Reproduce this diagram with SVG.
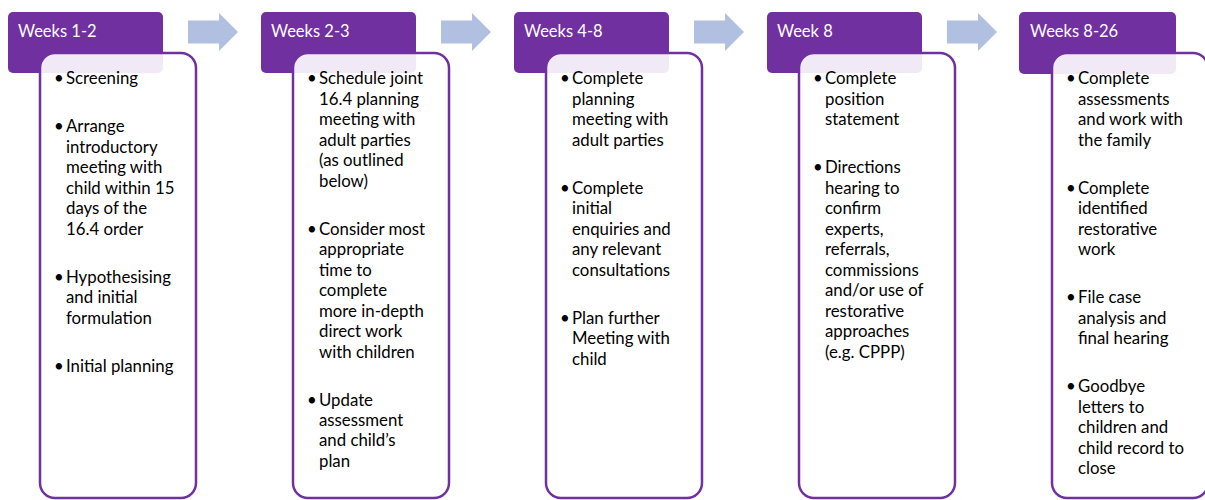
<svg xmlns="http://www.w3.org/2000/svg" width="1205" height="500" viewBox="0 0 1205 500">
<defs>
<style>
.hdr{fill:#7030A0}
.box{fill:#ffffff;fill-opacity:0.9;stroke:#7030A0;stroke-width:2.5}
.arr{fill:#B1BFE1}
.ht{font-family:Lato,"Liberation Sans",sans-serif;font-size:16.5px;fill:#ffffff}
.t{font-family:Lato,"Liberation Sans",sans-serif;font-size:16.8px;fill:#000000}
</style>
<path id="arrow" d="M0,7.5 H31 V0 L50,19 L31,38 V30.5 H0 Z"/>
</defs>
<g id="connectors">
<use href="#arrow" class="arr" x="188" y="13"/>
<use href="#arrow" class="arr" x="441" y="13"/>
<use href="#arrow" class="arr" x="694" y="13"/>
<use href="#arrow" class="arr" x="947" y="13"/>
</g>
<g id="stage1">
<rect class="hdr" x="8" y="12" width="155" height="61" rx="5"/>
<text class="ht" x="18" y="37">Weeks 1-2</text>
<rect class="box" x="40" y="53" width="156" height="445" rx="15"/>
<g class="t">
<text x="54" y="84">• <tspan x="66">Screening</tspan></text>
<text x="54" y="132">• <tspan x="66">Arrange</tspan></text>
<text x="66" y="153">introductory</text>
<text x="66" y="173">meeting with</text>
<text x="66" y="194">child within 15</text>
<text x="66" y="214">days of the</text>
<text x="66" y="235">16.4 order</text>
<text x="54" y="283">• <tspan x="66">Hypothesising</tspan></text>
<text x="66" y="303">and initial</text>
<text x="66" y="324">formulation</text>
<text x="54" y="372">• <tspan x="66">Initial planning</tspan></text>
</g>
</g>
<g id="stage2">
<rect class="hdr" x="261" y="12" width="155" height="61" rx="5"/>
<text class="ht" x="271" y="37">Weeks 2-3</text>
<rect class="box" x="293" y="53" width="156" height="445" rx="15"/>
<g class="t">
<text x="307" y="84">• <tspan x="319">Schedule joint</tspan></text>
<text x="319" y="105">16.4 planning</text>
<text x="319" y="125">meeting with</text>
<text x="319" y="146">adult parties</text>
<text x="319" y="166">(as outlined</text>
<text x="319" y="187">below)</text>
<text x="307" y="235">• <tspan x="319">Consider most</tspan></text>
<text x="319" y="255">appropriate</text>
<text x="319" y="276">time to</text>
<text x="319" y="296">complete</text>
<text x="319" y="317">more in-depth</text>
<text x="319" y="337">direct work</text>
<text x="319" y="358">with children</text>
<text x="307" y="406">• <tspan x="319">Update</tspan></text>
<text x="319" y="426">assessment</text>
<text x="319" y="446">and child’s</text>
<text x="319" y="467">plan</text>
</g>
</g>
<g id="stage3">
<rect class="hdr" x="514" y="12" width="155" height="61" rx="5"/>
<text class="ht" x="524" y="37">Weeks 4-8</text>
<rect class="box" x="546" y="53" width="156" height="445" rx="15"/>
<g class="t">
<text x="560" y="84">• <tspan x="572">Complete</tspan></text>
<text x="572" y="105">planning</text>
<text x="572" y="125">meeting with</text>
<text x="572" y="146">adult parties</text>
<text x="560" y="194">• <tspan x="572">Complete</tspan></text>
<text x="572" y="214">initial</text>
<text x="572" y="235">enquiries and</text>
<text x="572" y="255">any relevant</text>
<text x="572" y="276">consultations</text>
<text x="560" y="324">• <tspan x="572">Plan further</tspan></text>
<text x="572" y="344">Meeting with</text>
<text x="572" y="365">child</text>
</g>
</g>
<g id="stage4">
<rect class="hdr" x="767" y="12" width="155" height="61" rx="5"/>
<text class="ht" x="777" y="37">Week 8</text>
<rect class="box" x="799" y="53" width="156" height="445" rx="15"/>
<g class="t">
<text x="813" y="84">• <tspan x="825">Complete</tspan></text>
<text x="825" y="105">position</text>
<text x="825" y="125">statement</text>
<text x="813" y="173">• <tspan x="825">Directions</tspan></text>
<text x="825" y="194">hearing to</text>
<text x="825" y="214">confirm</text>
<text x="825" y="235">experts,</text>
<text x="825" y="255">referrals,</text>
<text x="825" y="276">commissions</text>
<text x="825" y="296">and/or use of</text>
<text x="825" y="317">restorative</text>
<text x="825" y="337">approaches</text>
<text x="825" y="358">(e.g. CPPP)</text>
</g>
</g>
<g id="stage5">
<rect class="hdr" x="1019" y="12" width="157" height="62" rx="5"/>
<text class="ht" x="1030" y="37">Weeks 8-26</text>
<rect class="box" x="1052" y="53" width="156" height="445" rx="15"/>
<g class="t">
<text x="1066" y="84">• <tspan x="1078">Complete</tspan></text>
<text x="1078" y="105">assessments</text>
<text x="1078" y="125">and work with</text>
<text x="1078" y="146">the family</text>
<text x="1066" y="194">• <tspan x="1078">Complete</tspan></text>
<text x="1078" y="214">identified</text>
<text x="1078" y="235">restorative</text>
<text x="1078" y="255">work</text>
<text x="1066" y="303">• <tspan x="1078">File case</tspan></text>
<text x="1078" y="324">analysis and</text>
<text x="1078" y="344">final hearing</text>
<text x="1066" y="392">• <tspan x="1078">Goodbye</tspan></text>
<text x="1078" y="413">letters to</text>
<text x="1078" y="433">children and</text>
<text x="1078" y="454">child record to</text>
<text x="1078" y="474">close</text>
</g>
</g>
</svg>
